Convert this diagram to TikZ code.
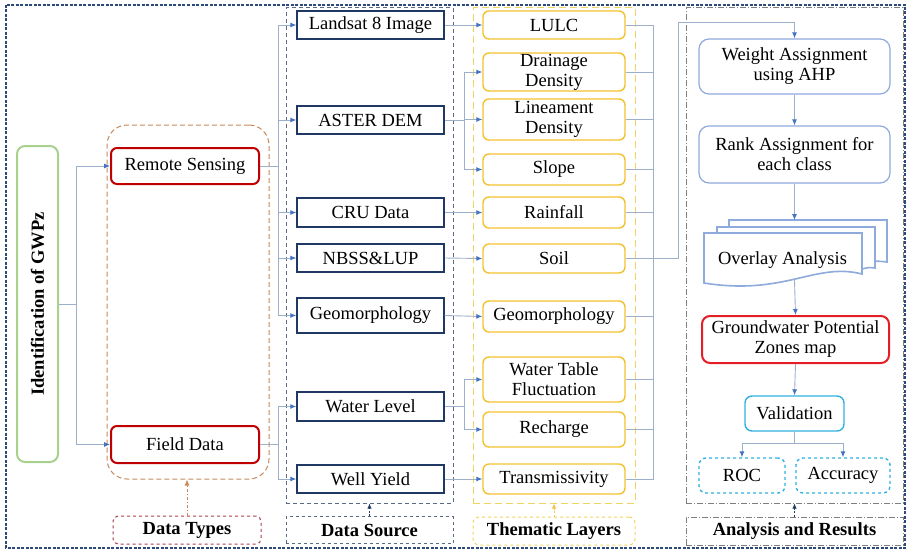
\documentclass[tikz,border=0pt]{standalone}
\usepackage{fontspec}
\setmainfont{Liberation Serif}
\usetikzlibrary{arrows.meta}
\definecolor{outerC}{HTML}{2E4A7D}
\definecolor{navyC}{HTML}{1F3864}
\definecolor{goldC}{HTML}{F2C12E}
\definecolor{ylwC}{HTML}{F0D460}
\definecolor{dsC}{HTML}{5A6A84}
\definecolor{anC}{HTML}{7F7F7F}
\definecolor{lineC}{HTML}{9DB0CA}
\definecolor{arrC}{HTML}{4472C4}
\definecolor{greenC}{HTML}{A9D18E}
\definecolor{redC}{HTML}{C00000}
\definecolor{dtlC}{HTML}{A8404F}
\definecolor{brownC}{HTML}{C7885A}
\definecolor{lblueC}{HTML}{8FAADC}
\definecolor{gpzC}{HTML}{E41E26}
\definecolor{cyanC}{HTML}{33B0E0}
\tikzset{
  every node/.style={font=\fontsize{18.5}{20}\selectfont, inner sep=0pt, align=center},
  conn/.style={draw=lineC, line width=0.9pt},
  arr/.style={conn, -{Latex[length=6pt,width=5pt,color=arrC]}},
  dsbox/.style={draw=navyC, line width=1.4pt, minimum width=147pt, minimum height=28pt},
  thbox/.style={draw=goldC, line width=1.4pt, rounded corners=6pt, minimum width=142pt, minimum height=30pt},
  dtbox/.style={draw=redC, line width=2pt, rounded corners=6pt, minimum width=148pt, minimum height=36pt},
  anbox/.style={draw=lblueC, line width=1.2pt, rounded corners=10pt, fill=white, minimum width=191pt},
  lblbox/.style={font=\fontsize{18.5}{20}\selectfont\bfseries, minimum height=28pt, line width=1pt},
}
\begin{document}
\begin{tikzpicture}[x=1pt,y=-1pt]
\useasboundingbox (0,0) rectangle (910,551);
% outer border
\draw[outerC, line width=1.2pt, dash pattern=on 3pt off 1.5pt] (6,5) rectangle (905,548);

% containers
\node[draw=brownC, line width=1pt, dash pattern=on 5pt off 3pt, rounded corners=20pt, minimum width=162pt, minimum height=354pt] (dtcont) at (188,302) {};
\node[draw=dsC, line width=1pt, dash pattern=on 4pt off 3pt, minimum width=167pt, minimum height=495pt] (dscont) at (369.5,255.5) {};
\node[draw=ylwC, line width=1pt, dash pattern=on 7pt off 4pt, minimum width=162pt, minimum height=495pt] (thcont) at (554,255.5) {};
\node[draw=anC, line width=1pt, dash pattern=on 6pt off 2pt on 1pt off 2pt, minimum width=217pt, minimum height=495pt] (ancont) at (794.5,255.5) {};

% labels
\node[lblbox, draw=dtlC, dashed, rounded corners=5pt, minimum width=148pt] (dtl) at (187,530) {Data Types};
\node[lblbox, draw=dsC, dashed, minimum width=167pt, minimum height=27pt] (dsl) at (369.5,530) {Data Source};
\node[lblbox, draw=ylwC, dashed, rounded corners=6pt, minimum width=162pt] (thl) at (554,531) {Thematic Layers};
\node[lblbox, draw=anC, dash pattern=on 6pt off 2pt on 1pt off 2pt, minimum width=217pt] (anl) at (794.5,531) {Analysis and Results};

\draw[brownC, line width=0.9pt, dash pattern=on 3pt off 2pt on 1pt off 2pt, -{Latex[length=6pt,width=5pt]}] (dtl.north) -- (dtl.north |- dtcont.south);
\draw[navyC, line width=0.9pt, dash pattern=on 2pt off 1.5pt, -{Latex[length=5pt,width=4.5pt]}] (dsl.north) -- (dscont.south);
\draw[ylwC!80!orange, line width=0.9pt, dash pattern=on 2pt off 1.5pt, -{Latex[length=5pt,width=4.5pt]}] (thl.north) -- (thcont.south);
\draw[navyC, line width=0.9pt, dash pattern=on 2pt off 1.5pt, -{Latex[length=5pt,width=4.5pt]}] (anl.north) -- (ancont.south);

% GWPz
\node[draw=greenC, line width=2pt, rounded corners=8pt, minimum width=41pt, minimum height=316pt] (gwpz) at (37.5,304) {\rotatebox{90}{\bfseries Identification of GWPz}};

% data types
\node[dtbox] (rs) at (185,166) {Remote Sensing};
\node[dtbox, minimum height=37pt] (fd) at (185,444.5) {Field Data};

% data sources
\node[dsbox] (landsat) at (370.5,25) {Landsat 8 Image};
\node[dsbox] (aster) at (370.5,120) {ASTER DEM};
\node[dsbox, minimum height=29pt] (cru) at (370.5,212.5) {CRU Data};
\node[dsbox] (nbss) at (370.5,258) {NBSS\&LUP};
\node[dsbox, minimum height=35pt] (geo1) at (370.5,315.5) {Geomorphology};
\node[dsbox, minimum height=29pt] (wl) at (370.5,406.5) {Water Level};
\node[dsbox] (wy) at (370.5,479) {Well Yield};

% thematic
\node[thbox, minimum height=28pt] (lulc) at (554,25) {LULC};
\node[thbox, minimum height=38pt] (dd) at (554,72) {Drainage\\Density};
\node[thbox, minimum height=41pt] (ld) at (554,119.5) {Lineament\\Density};
\node[thbox, minimum height=31pt] (slope) at (554,169.5) {Slope};
\node[thbox, minimum height=31pt] (rain) at (554,212.5) {Rainfall};
\node[thbox, minimum height=29pt] (soil) at (554,258.5) {Soil};
\node[thbox, minimum height=31pt] (geo2) at (554,316.5) {Geomorphology};
\node[thbox, minimum height=45pt] (wtf) at (554,379.5) {Water Table\\Fluctuation};
\node[thbox, minimum height=35pt] (rech) at (554,429.5) {Recharge};
\node[thbox, minimum height=30pt] (trans) at (554,479) {Transmissivity};

% analysis
\node[anbox, minimum height=55pt] (wa) at (794.5,66.5) {Weight Assignment\\using AHP};
\node[anbox, minimum height=57pt] (ra) at (794.5,154.5) {Rank Assignment for\\each class};
% overlay (multi-document)
\begin{scope}[draw=lblueC, line width=1.6pt, fill=white]
\filldraw (729,220) -- (887,220) -- (887,262) .. controls (870,260) and (870,262) .. (862,264) -- (862,233) -- (729,233) -- cycle;
\filldraw (717,227) -- (875,227) -- (875,268) .. controls (868,267) and (866,268) .. (862,269) -- (862,233) -- (717,233) -- cycle;
\filldraw (704,233) -- (862,233) -- (862,274) .. controls (815,262) and (785,296) .. (704,283) -- cycle;
\end{scope}
\node (ov) at (782.5,260) {Overlay Analysis};
\coordinate (ovtop) at (794.5,220);
\coordinate (ovbot) at (794.5,280);
\node[draw=gpzC, line width=2pt, rounded corners=8pt, minimum width=187pt, minimum height=47pt] (gpz) at (795.5,339.5) {Groundwater Potential\\Zones map};
\node[draw=cyanC, line width=1.4pt, rounded corners=7pt, minimum width=99pt, minimum height=35pt] (val) at (794.5,413.5) {Validation};
\node[draw=cyanC, line width=1.4pt, dashed, rounded corners=7pt, minimum width=86pt, minimum height=35pt] (roc) at (742,475.5) {ROC};
\node[draw=cyanC, line width=1.4pt, dashed, rounded corners=7pt, minimum width=94pt, minimum height=35pt] (acc) at (843,475.5) {Accuracy};

% connectors
\coordinate (j1) at (76,304);
\draw[conn] (gwpz.east |- j1) -- (j1);
\draw[arr] (j1) |- (rs.west);
\draw[arr] (j1) |- (fd.west);

\coordinate (j2) at (278,166);
\draw[conn] (rs.east) -- (j2);
\draw[arr] (j2) |- (landsat.west);
\draw[arr] (j2) |- (aster.west);
\draw[arr] (j2) |- (cru.west);
\draw[arr] (j2) |- (nbss.west);
\draw[arr] (j2) |- (geo1.west);

\coordinate (j3) at (278,444.5);
\draw[conn] (fd.east) -- (j3);
\draw[arr] (j3) |- (wl.west);
\draw[arr] (j3) |- (wy.west);

\draw[arr] (landsat.east) -- (lulc.west);
\coordinate (j4) at (464,120);
\draw[conn] (aster.east) -- (j4);
\draw[arr] (j4) |- (dd.west);
\draw[arr] (j4) |- (ld.west);
\draw[arr] (j4) |- (slope.west);
\draw[arr] (cru.east) -- (rain.west);
\draw[arr] (nbss.east) -- (soil.west);
\draw[arr] (geo1.east) -- (geo2.west);
\coordinate (j5) at (464,406.5);
\draw[conn] (wl.east) -- (j5);
\draw[arr] (j5) |- (wtf.west);
\draw[arr] (j5) |- (rech.west);
\draw[arr] (wy.east) -- (trans.west);

\coordinate (b1) at (653,258.5);
\foreach \n in {lulc,dd,ld,slope,rain,soil,geo2,wtf,rech,trans}
  \draw[conn] (\n.east) -| (b1);
\coordinate (b2) at (678,22);
\draw[arr] (b1) -| (b2) -| (wa.north);

\draw[arr] (wa.south) -- (ra.north);
\draw[arr] (ra.south) -- (ovtop);
\draw[arr] (ovbot) -- (gpz.north);
\draw[arr] (gpz.south) -- (val.north);
\coordinate (j6) at (794.5,443);
\draw[conn] (val.south) -- (j6);
\draw[arr] (j6) -| (roc.north);
\draw[arr] (j6) -| (acc.north);
\end{tikzpicture}
\end{document}
